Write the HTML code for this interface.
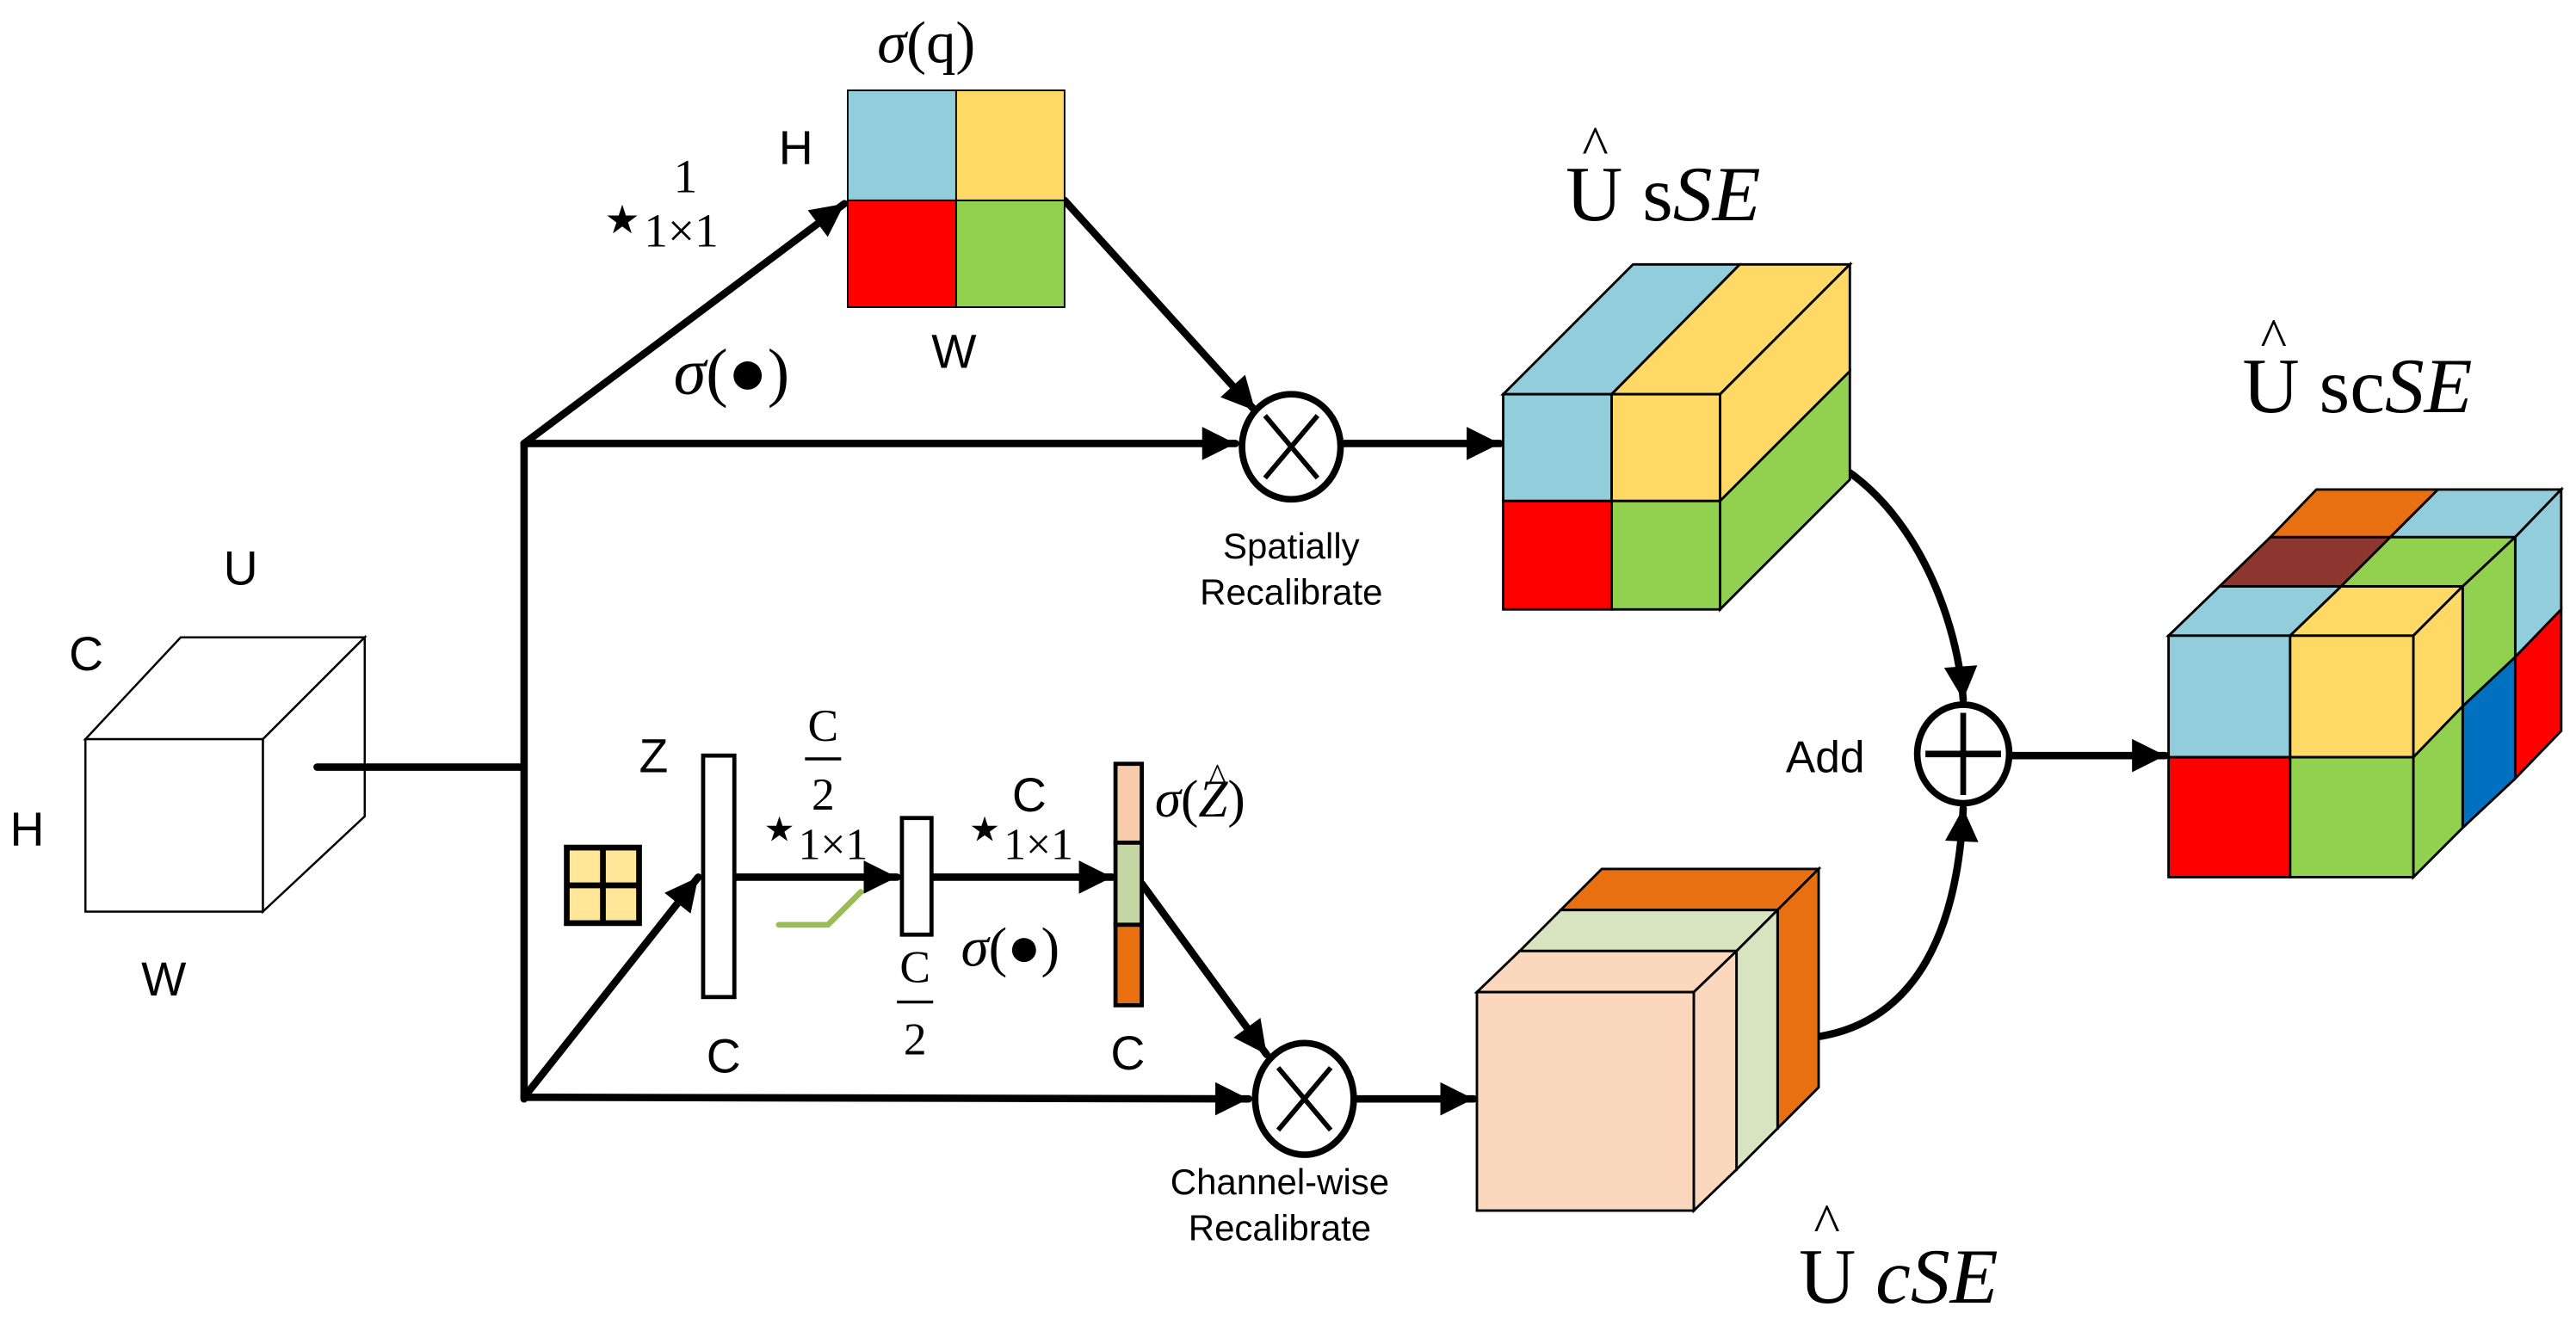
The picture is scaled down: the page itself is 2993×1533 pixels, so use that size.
<!DOCTYPE html>
<html><head><meta charset="utf-8"><style>
html,body{margin:0;padding:0;background:#fff;}
svg{display:block;}
.s{font-family:"Liberation Sans",sans-serif;}
.t{font-family:"Liberation Serif",serif;}
</style></head><body>
<svg width="2993" height="1533" viewBox="0 0 1568 803" preserveAspectRatio="none" xmlns="http://www.w3.org/2000/svg">
<defs>
<marker id="a" viewBox="0 0 10 10" refX="10" refY="5" markerWidth="5" markerHeight="4.5" orient="auto" markerUnits="strokeWidth">
<path d="M0,0 L10,5 L0,10 z" fill="#000"/></marker>
</defs>
<rect width="1568" height="803" fill="#fff"/>

<!-- U cube -->
<g fill="#fff" stroke="#000" stroke-width="1.3">
<polygon points="52,450 110,388 222,388 160,450"/>
<polygon points="160,450 222,388 222,497 160,555"/>
<rect x="52" y="450" width="108" height="105"/>
</g>
<g class="s" font-size="29" fill="#000">
<text x="136" y="356">U</text>
<text x="42" y="408">C</text>
<text x="6" y="515">H</text>
<text x="86" y="606">W</text>
</g>

<!-- main lines -->
<g stroke="#000" stroke-width="4.5" fill="none" stroke-linecap="round">
<line x1="193" y1="467" x2="319" y2="467"/>
<line x1="319" y1="270" x2="319" y2="669"/>
<line x1="319" y1="270" x2="514" y2="124" marker-end="url(#a)"/>
<line x1="319" y1="270" x2="752" y2="270" marker-end="url(#a)"/>
<line x1="648" y1="122" x2="764" y2="250" marker-end="url(#a)"/>
<line x1="818" y1="270" x2="913" y2="270" marker-end="url(#a)"/>
<line x1="319" y1="668" x2="425" y2="534" marker-end="url(#a)"/>
<line x1="319" y1="668" x2="760" y2="669" marker-end="url(#a)"/>
<line x1="448" y1="534" x2="546" y2="534" marker-end="url(#a)"/>
<line x1="568" y1="534" x2="677" y2="534" marker-end="url(#a)"/>
<line x1="695" y1="538" x2="771" y2="642" marker-end="url(#a)"/>
<line x1="826" y1="669" x2="897" y2="669" marker-end="url(#a)"/>
<line x1="1225" y1="460" x2="1318" y2="460" marker-end="url(#a)"/>
<path d="M1083,270 C1150,280 1190,360 1195,426" marker-end="url(#a)"/>
<path d="M1100,632 C1170,625 1192,560 1195,492" marker-end="url(#a)"/>
</g>

<!-- sigma(q) square -->
<g stroke="#000" stroke-width="1">
<rect x="516" y="55" width="66" height="67" fill="#92CDDC"/>
<rect x="582" y="55" width="66" height="67" fill="#FFD966"/>
<rect x="516" y="122" width="66" height="65" fill="#FF0000"/>
<rect x="582" y="122" width="66" height="65" fill="#92D050"/>
</g>
<text class="t" x="534" y="38" font-size="36"><tspan font-style="italic">σ</tspan>(q)</text>
<text class="s" x="474" y="100" font-size="29">H</text>
<text class="s" x="567" y="224" font-size="29">W</text>
<text class="t" x="368" y="142" font-size="24">★</text>
<text class="t" x="410" y="117" font-size="29">1</text>
<text class="t" x="392" y="150" font-size="29">1×1</text>
<text class="t" x="410" y="240" font-size="40"><tspan font-style="italic">σ</tspan>(●)</text>

<!-- otimes top -->
<g stroke="#000" stroke-width="4" fill="#fff">
<ellipse cx="786" cy="272" rx="30" ry="32"/>
<line x1="770" y1="253" x2="802" y2="291" stroke-width="3"/>
<line x1="802" y1="253" x2="770" y2="291" stroke-width="3"/>
</g>
<text class="s" x="786" y="340" font-size="22" text-anchor="middle">Spatially</text>
<text class="s" x="786" y="368" font-size="22" text-anchor="middle">Recalibrate</text>

<!-- sSE box -->
<g stroke="#000" stroke-width="1.5">
<polygon points="915,240 994,161 1059,161 981,240" fill="#92CDDC"/>
<polygon points="981,240 1059,161 1126,161 1047,240" fill="#FFD966"/>
<polygon points="1047,240 1126,161 1126,226 1047,305" fill="#FFD966"/>
<polygon points="1047,305 1126,226 1126,292 1047,371" fill="#92D050"/>
<rect x="915" y="240" width="66" height="65" fill="#92CDDC"/>
<rect x="981" y="240" width="66" height="65" fill="#FFD966"/>
<rect x="915" y="305" width="66" height="66" fill="#FF0000"/>
<rect x="981" y="305" width="66" height="66" fill="#92D050"/>
</g>
<text class="t" x="971" y="100" font-size="34" text-anchor="middle">^</text>
<text class="t" x="953" y="134" font-size="48">U s<tspan font-style="italic">SE</tspan></text>

<!-- oplus -->
<g stroke="#000" stroke-width="4" fill="#fff">
<ellipse cx="1195" cy="459" rx="28" ry="30"/>
<line x1="1172" y1="459" x2="1218" y2="459"/>
<line x1="1195" y1="434" x2="1195" y2="484" stroke-width="3.5"/>
</g>
<text class="s" x="1087" y="470" font-size="27">Add</text>

<!-- scSE cube -->
<g stroke="#000" stroke-width="1.5">
<polygon points="1382,327 1410,298 1484,298 1455,327" fill="#E97010"/>
<polygon points="1455,327 1484,298 1559,298 1531,327" fill="#92CDDC"/>
<polygon points="1351,357 1382,327 1455,327 1425,357" fill="#8E3730"/>
<polygon points="1425,357 1455,327 1531,327 1499,357" fill="#92D050"/>
<polygon points="1320,387 1351,357 1425,357 1394,387" fill="#92CDDC"/>
<polygon points="1394,387 1425,357 1499,357 1469,387" fill="#FFD966"/>
<polygon points="1531,327 1559,298 1559,371 1531,400" fill="#92CDDC"/>
<polygon points="1531,400 1559,371 1559,445 1531,474" fill="#FF0000"/>
<polygon points="1499,357 1531,327 1531,400 1499,430" fill="#92D050"/>
<polygon points="1499,430 1531,400 1531,474 1499,504" fill="#0070C0"/>
<polygon points="1469,387 1499,357 1499,430 1469,461" fill="#FFD966"/>
<polygon points="1469,461 1499,430 1499,504 1469,534" fill="#92D050"/>
<rect x="1320" y="387" width="74" height="74" fill="#92CDDC"/>
<rect x="1394" y="387" width="75" height="74" fill="#FFD966"/>
<rect x="1320" y="461" width="74" height="73" fill="#FF0000"/>
<rect x="1394" y="461" width="75" height="73" fill="#92D050"/>
</g>
<text class="t" x="1384" y="217" font-size="34" text-anchor="middle">^</text>
<text class="t" x="1365" y="251" font-size="48">U sc<tspan font-style="italic">SE</tspan></text>

<!-- bottom branch -->
<g stroke="#000" stroke-width="3.5">
<rect x="345" y="516" width="44" height="46" fill="#FFE699"/>
<line x1="367" y1="516" x2="367" y2="562"/>
<line x1="345" y1="539" x2="389" y2="539"/>
</g>
<rect x="428" y="460" width="19" height="147" fill="#fff" stroke="#000" stroke-width="2.5"/>
<rect x="549" y="498" width="18" height="71" fill="#fff" stroke="#000" stroke-width="2.5"/>
<g stroke="#000" stroke-width="2.5">
<rect x="679" y="465" width="16" height="48" fill="#F8CBAD"/>
<rect x="679" y="513" width="16" height="50" fill="#C5D6A5"/>
<rect x="679" y="563" width="16" height="49" fill="#E97010"/>
</g>
<polyline points="474,563 504,563 524,543" fill="none" stroke="#9BBB59" stroke-width="3.5" stroke-linecap="round"/>

<g class="s" font-size="29">
<text x="389" y="470">Z</text>
<text x="430" y="653">C</text>
<text x="616" y="494">C</text>
<text x="676" y="651">C</text>
</g>
<g class="t">
<text x="501" y="451" font-size="28" text-anchor="middle">C</text>
<line x1="490" y1="462" x2="512" y2="462" stroke="#000" stroke-width="1.8"/>
<text x="501" y="493" font-size="28" text-anchor="middle">2</text>
<text x="465" y="512" font-size="21">★</text>
<text x="486" y="523" font-size="27">1×1</text>
<text x="557" y="598" font-size="28" text-anchor="middle">C</text>
<line x1="546" y1="610" x2="568" y2="610" stroke="#000" stroke-width="1.8"/>
<text x="557" y="642" font-size="28" text-anchor="middle">2</text>
<text x="590" y="512" font-size="21">★</text>
<text x="611" y="523" font-size="27">1×1</text>
<text x="585" y="588" font-size="34"><tspan font-style="italic">σ</tspan>(●)</text>
<text x="703" y="497" font-size="32"><tspan font-style="italic">σ</tspan>(<tspan font-style="italic">Z</tspan>)</text>
<text x="741" y="480" font-size="22" text-anchor="middle">^</text>
</g>

<!-- otimes bottom -->
<g stroke="#000" stroke-width="4" fill="#fff">
<ellipse cx="794" cy="669" rx="30" ry="34"/>
<line x1="778" y1="650" x2="810" y2="688" stroke-width="3"/>
<line x1="810" y1="650" x2="778" y2="688" stroke-width="3"/>
</g>
<text class="s" x="779" y="727" font-size="22" text-anchor="middle">Channel-wise</text>
<text class="s" x="779" y="755" font-size="22" text-anchor="middle">Recalibrate</text>

<!-- cSE box -->
<g stroke="#000" stroke-width="1.5">
<polygon points="950,554 975,529 1107,529 1082,554" fill="#E97010"/>
<polygon points="1082,554 1107,529 1107,662 1082,687" fill="#E97010"/>
<rect x="950" y="554" width="132" height="133" fill="#E97010"/>
<polygon points="925,579 950,554 1082,554 1057,579" fill="#D8E4BF"/>
<polygon points="1057,579 1082,554 1082,687 1057,712" fill="#D8E4BF"/>
<rect x="925" y="579" width="132" height="133" fill="#D8E4BF"/>
<polygon points="899,604 925,579 1057,579 1031,604" fill="#FAD7BD"/>
<polygon points="1031,604 1057,579 1057,712 1031,737" fill="#FAD7BD"/>
<rect x="899" y="604" width="132" height="133" fill="#FAD7BD"/>
</g>
<text class="t" x="1112" y="756" font-size="34" text-anchor="middle">^</text>
<text class="t" x="1095" y="793" font-size="48">U <tspan font-style="italic">cSE</tspan></text>
</svg>
</body></html>
